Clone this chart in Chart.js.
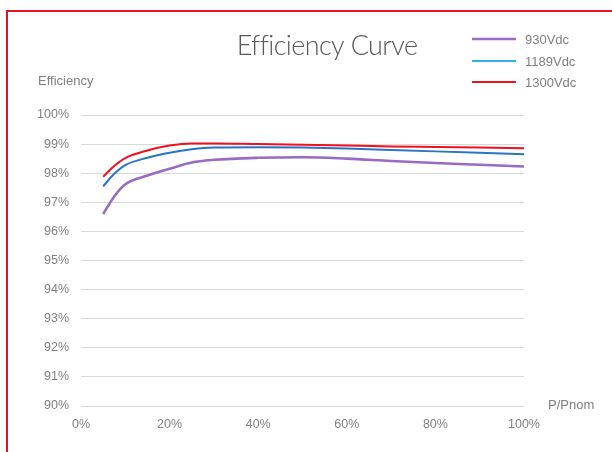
<!DOCTYPE html>
<html><head><meta charset="utf-8">
<script src="https://cdn.jsdelivr.net/npm/chart.js@4/dist/chart.umd.min.js"></script>
<style>
html,body{margin:0;padding:0;width:612px;height:452px;overflow:hidden;background:#fff;}
#frame{position:absolute;left:6px;top:10px;width:700px;height:600px;border:2px solid #e3141e;box-sizing:border-box;}
#wrap{position:absolute;left:0;top:0;width:612px;height:452px;}
</style></head>
<body>
<div id="frame"></div>
<div id="wrap"><canvas id="c" width="612" height="452"></canvas></div>
<script>
const loadPct = [5, 7.5, 10, 15, 20, 25, 30, 40, 50, 60, 70, 80, 90, 100];
const eff930  = [96.6, 97.2, 97.62, 97.92, 98.15, 98.37, 98.46, 98.53, 98.55, 98.5, 98.42, 98.35, 98.29, 98.23];
const eff1189 = [97.55, 97.98, 98.28, 98.53, 98.7, 98.82, 98.88, 98.89, 98.88, 98.85, 98.8, 98.75, 98.7, 98.65];
const eff1300 = [97.88, 98.25, 98.52, 98.78, 98.95, 99.02, 99.02, 99.0, 98.98, 98.95, 98.92, 98.9, 98.88, 98.86];
const seriesLabels = ['930Vdc', '1189Vdc', '1300Vdc'];
const xTicks = [0, 20, 40, 60, 80, 100];
const yTicks = [90, 91, 92, 93, 94, 95, 96, 97, 98, 99, 100];
const chartTitle = 'Efficiency Curve';
const yTitle = 'Efficiency';
const xTitle = 'P/Pnom';

const pts = arr => arr.map((v, i) => ({x: loadPct[i], y: v}));

const overlay = {
  id: 'overlay',
  afterDraw(chart) {
    const ctx = chart.ctx;
    ctx.save();
    ctx.textBaseline = 'middle';
    ctx.fillStyle = '#595959';
    ctx.font = '300 27px Lato';
    ctx.textAlign = 'center';
    ctx.letterSpacing = '-0.6px';
    ctx.fillText(chartTitle, 327, 46);
    ctx.letterSpacing = '0px';
    ctx.font = '13px "Liberation Sans", Arial';
    ctx.fillStyle = '#7f7f7f';
    ctx.textAlign = 'left';
    ctx.fillText(yTitle, 38, 81);
    ctx.fillText(xTitle, 548, 405);
    const rowsY = [39, 61, 82];
    chart.data.datasets.forEach((ds, i) => {
      ctx.strokeStyle = ds.legendColor;
      ctx.lineWidth = ds.borderWidth;
      ctx.beginPath();
      ctx.moveTo(472, rowsY[i]);
      ctx.lineTo(516, rowsY[i]);
      ctx.stroke();
      ctx.fillStyle = '#7f7f7f';
      ctx.fillText(ds.label, 525, rowsY[i] + 1);
    });
    ctx.restore();
  }
};

new Chart(document.getElementById('c'), {
  type: 'line',
  data: {
    datasets: [
      {label: seriesLabels[0], data: pts(eff930), borderColor: '#9a6ac6', legendColor: '#9a6ac6', borderWidth: 2.6},
      {label: seriesLabels[1], data: pts(eff1189), borderColor: '#2a74c4', legendColor: '#2cb4e8', borderWidth: 2},
      {label: seriesLabels[2], data: pts(eff1300), borderColor: '#f0101e', legendColor: '#f0101e', borderWidth: 2}
    ]
  },
  options: {
    responsive: false,
    animation: false,
    devicePixelRatio: 1,
    layout: {padding: {left: 0, top: 115, right: 88, bottom: 16}},
    elements: {point: {radius: 0}, line: {cubicInterpolationMode: 'monotone', fill: false}},
    plugins: {legend: {display: false}, title: {display: false}, tooltip: {enabled: false}},
    scales: {
      x: {
        type: 'linear', min: 0, max: 100,
        afterBuildTicks: s => { s.ticks = xTicks.map(v => ({value: v})); },
        afterFit: s => { s.height = 30; },
        grid: {display: false, drawTicks: false},
        border: {display: false},
        ticks: {padding: 11, color: '#808080', font: {size: 12.5, family: '"Liberation Sans", Arial'}, callback: v => v + '%', maxRotation: 0}
      },
      y: {
        min: 90, max: 100,
        afterBuildTicks: s => { s.ticks = yTicks.map(v => ({value: v})); },
        afterFit: s => { s.width = 81; },
        grid: {color: '#d9d9d9', lineWidth: 1, drawTicks: false},
        border: {display: false},
        ticks: {padding: 12, color: '#808080', font: {size: 12.5, family: '"Liberation Sans", Arial'}, callback: v => v + '%'}
      }
    }
  },
  plugins: [overlay]
});
</script>
</body></html>
